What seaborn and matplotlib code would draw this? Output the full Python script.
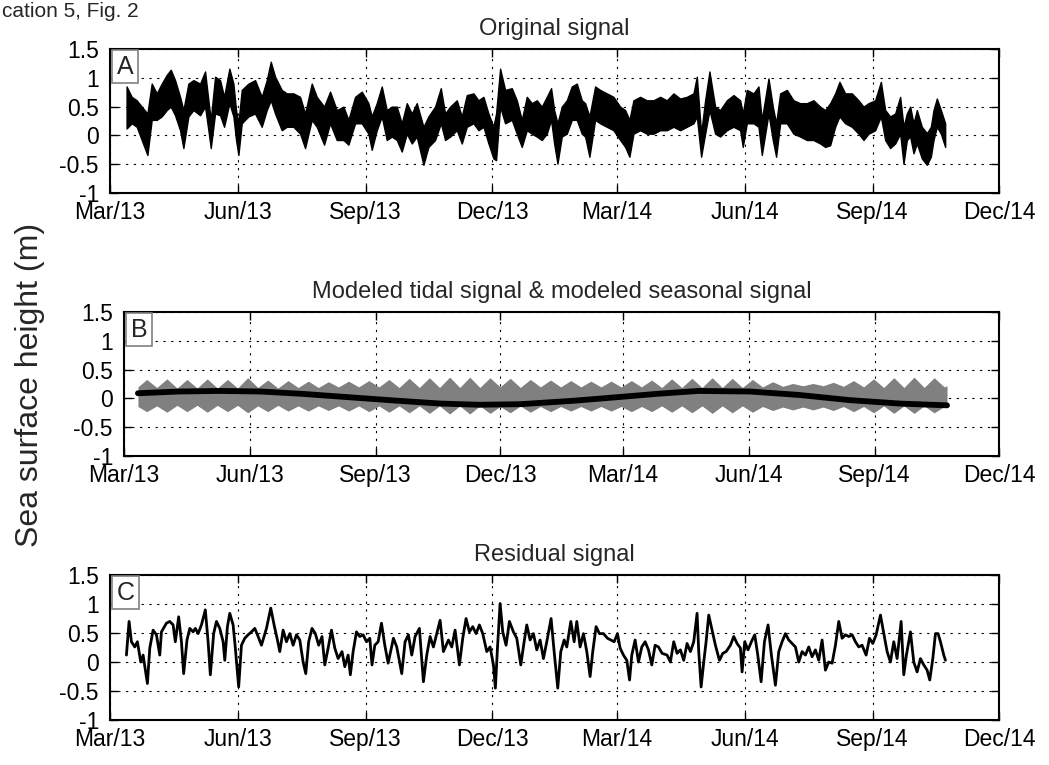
import matplotlib as mpl
mpl.use("Agg")
import matplotlib.pyplot as plt
import matplotlib.dates as mdates
import pandas as pd
import seaborn as sns

# days are counted from 1 March 2013
start_date = "2013-03-01"
x_ticks = ["2013-03-01", "2013-06-01", "2013-09-01", "2013-12-01",
           "2014-03-01", "2014-06-01", "2014-09-01", "2014-12-01"]
y_ticks = [-1, -0.5, 0, 0.5, 1, 1.5]
y_tick_labels = ["-1", "-0.5", "0", "0.5", "1", "1.5"]

titles = ["Original signal",
          "Modeled tidal signal & modeled seasonal signal",
          "Residual signal"]
panel_letters = ["A", "B", "C"]

# A: original signal, upper / lower edge of the black band
original_days = [
    11.9, 15.6, 19.2, 22.8, 26.9, 30.0, 33.6, 37.2, 40.8, 43.7, 46.8, 50.4, 52.8, 56.4, 60.0,
    64.8, 68.4, 70.8, 72.5, 75.6, 79.2, 82.1, 85.9, 88.8, 90.7, 92.4, 94.8, 99.6, 104.4, 109.2,
    112.8, 115.7, 118.8, 123.6, 127.2, 132.0, 136.8, 140.4, 145.2, 148.8, 154.1, 158.4, 163.2,
    168.0, 171.6, 176.4, 181.2, 186.0, 188.4, 192.0, 195.6, 199.2, 202.8, 206.4, 210.0, 213.6,
    217.2, 220.8, 225.6, 229.2, 234.0, 238.1, 241.2, 244.8, 249.6, 253.2, 256.8, 261.6, 265.2,
    268.8, 272.4, 276.0, 277.9, 280.8, 284.4, 289.2, 292.8, 296.4, 300.0, 303.6, 307.2, 310.8,
    314.4, 317.5, 319.7, 322.1, 325.2, 328.8, 332.4, 336.0, 339.6, 342.0, 345.1, 349.2, 352.8,
    357.6, 362.4, 367.2, 370.8, 373.9, 376.8, 381.6, 386.4, 391.2, 396.0, 400.8, 405.6, 410.4,
    415.2, 420.0, 422.4, 425.5, 428.4, 431.5, 435.6, 439.2, 444.0, 448.8, 453.6, 455.5, 458.4,
    463.2, 466.8, 469.2, 474.0, 477.1, 479.5, 482.4, 487.2, 492.0, 496.8, 501.6, 506.4, 511.2,
    514.8, 518.4, 522.0, 525.1, 529.2, 534.0, 538.8, 542.4, 546.0, 550.8, 554.9, 558.0, 561.6,
    565.2, 568.8, 571.2, 573.6, 576.0, 578.4, 580.8, 584.4, 588.0, 590.9, 592.8, 595.2, 598.1,
    601.2]
original_high = [
    0.85, 0.67, 0.61, 0.50, 0.38, 0.90, 0.73, 0.90, 1.05, 1.14, 0.96, 0.67, 0.44, 0.90, 0.96,
    0.90, 1.11, 0.61, 0.27, 1.02, 0.96, 0.67, 1.16, 0.90, 0.44, 0.21, 0.79, 0.90, 0.96, 0.67,
    0.96, 1.28, 1.02, 0.79, 0.73, 0.73, 0.67, 0.38, 0.90, 0.67, 0.50, 0.76, 0.44,
    0.50, 0.27, 0.67, 0.76, 0.56, 0.33, 0.56, 0.85, 0.44, 0.50, 0.50, 0.21, 0.56,
    0.38, 0.56, 0.15, 0.33, 0.50, 0.82, 0.38, 0.50, 0.61, 0.33, 0.70, 0.73, 0.61,
    0.67, 0.38, 0.15, 0.38, 1.16, 0.79, 0.82, 0.61, 0.27, 0.67, 0.56, 0.61, 0.50,
    0.67, 0.82, 0.44, 0.21, 0.50, 0.61, 0.85, 0.90, 0.61, 0.56, 0.33, 0.85, 0.79,
    0.73, 0.67, 0.50, 0.44, 0.27, 0.61, 0.67, 0.61, 0.61, 0.67, 0.61, 0.73, 0.64,
    0.67, 0.73, 1.02, 0.04, 0.61, 1.11, 0.50, 0.44, 0.61, 0.70, 0.61, 0.38, 0.79,
    0.73, 0.85, 0.27, 0.99, 0.50, 0.21, 0.73, 0.79, 0.61, 0.56, 0.56, 0.61, 0.50,
    0.44, 0.56, 0.73, 0.93, 0.73, 0.73, 0.61, 0.50, 0.56, 0.61, 0.93, 0.44, 0.33,
    0.38, 0.67, 0.15, 0.38, 0.50, 0.21, 0.44, 0.15, 0.04, 0.15, 0.44, 0.64, 0.44,
    0.21]
original_low = [
    0.12, 0.21, 0.15, -0.08, -0.34, 0.27, 0.27, 0.33, 0.44, 0.50, 0.35, 0.09, -0.22, 0.33, 0.44,
    0.35, 0.50, 0.09, -0.22, 0.38, 0.35, 0.15, 0.56, 0.33, -0.08, -0.34, 0.21, 0.33, 0.38, 0.15,
    0.44, 0.61, 0.38, 0.09, 0.15, 0.15, 0.03, -0.22, 0.27, 0.15, -0.16, 0.21, -0.08,
    -0.08, -0.16, 0.21, 0.21, 0.03, -0.25, 0.09, 0.33, -0.08, -0.02, -0.08, -0.28, 0.03,
    -0.14, -0.02, -0.51, -0.20, -0.08, 0.21, -0.08, -0.02, 0.09, -0.14, 0.15, 0.21, 0.09,
    0.15, -0.14, -0.40, -0.43, 0.50, 0.21, 0.27, 0.03, -0.20, 0.09, 0.03, -0.02, -0.08,
    0.03, 0.27, -0.14, -0.49, -0.02, 0.03, 0.27, 0.27, 0.03, -0.02, -0.37, 0.27, 0.21,
    0.15, 0.09, -0.08, -0.20, -0.37, 0.03, 0.09, 0.03, 0.03, 0.09, 0.09, 0.15, 0.09,
    0.15, 0.21, 0.33, -0.37, 0.03, 0.44, 0.03, -0.02, 0.09, 0.15, 0.09, -0.20, 0.21,
    0.21, 0.15, -0.34, 0.38, -0.08, -0.37, 0.21, 0.21, 0.03, -0.02, -0.08, -0.08, -0.14,
    -0.20, -0.17, 0.15, 0.33, 0.21, 0.15, 0.03, -0.08, 0.03, 0.09, 0.33, -0.08, -0.22,
    -0.14, 0.03, -0.49, -0.08, -0.02, -0.31, -0.14, -0.40, -0.51, -0.37, -0.08, 0.15, 0.03,
    -0.20]

# B: modeled tide (envelope at spring / neap tides) and seasonal cycle
tide_days = [
    10.2, 16.6, 24.0, 31.4, 38.8, 46.1, 53.5, 60.9, 68.3, 75.7, 83.1, 90.5, 97.9, 105.2,
    112.6, 120.0, 127.4, 134.8, 142.2, 149.5, 156.9, 164.3, 171.7, 179.1, 186.5, 193.8,
    201.2, 208.6, 216.0, 223.4, 230.8, 238.2, 245.6, 252.9, 260.3, 267.7, 275.1, 282.5,
    289.9, 297.2, 304.6, 312.0, 319.4, 326.8, 334.2, 341.5, 348.9, 356.3, 363.7, 371.1,
    378.5, 385.9, 393.3, 400.6, 408.0, 415.4, 422.8, 430.2, 437.6, 444.9, 452.3, 459.7,
    467.1, 474.5, 481.9, 489.2, 496.6, 504.0, 511.4, 518.8, 526.2, 533.6, 541.0, 548.3,
    555.7, 563.1, 570.5, 577.9, 585.3, 592.6, 600.0, 602.0]
tide_high = [
    0.20, 0.33, 0.19, 0.34, 0.18, 0.33, 0.18, 0.34, 0.18, 0.33,
    0.18, 0.36, 0.19, 0.32, 0.18, 0.31, 0.19, 0.30, 0.19, 0.29,
    0.20, 0.30, 0.20, 0.31, 0.20, 0.33, 0.19, 0.35, 0.19, 0.36,
    0.19, 0.37, 0.19, 0.37, 0.19, 0.36, 0.20, 0.35, 0.19, 0.33,
    0.20, 0.32, 0.20, 0.31, 0.20, 0.30, 0.20, 0.30, 0.20, 0.31,
    0.20, 0.32, 0.19, 0.34, 0.19, 0.35, 0.19, 0.36, 0.19, 0.35,
    0.19, 0.33, 0.20, 0.29, 0.21, 0.26, 0.22, 0.26, 0.22, 0.28,
    0.21, 0.31, 0.20, 0.34, 0.19, 0.36, 0.19, 0.37, 0.19, 0.36,
    0.20, 0.22]
tide_low = [
    -0.14, -0.23, -0.13, -0.24, -0.12, -0.23, -0.12, -0.24, -0.12, -0.23,
    -0.12, -0.25, -0.13, -0.23, -0.12, -0.22, -0.13, -0.22, -0.13, -0.21,
    -0.13, -0.22, -0.13, -0.23, -0.13, -0.24, -0.13, -0.25, -0.13, -0.26,
    -0.13, -0.27, -0.13, -0.27, -0.13, -0.26, -0.14, -0.25, -0.13, -0.24,
    -0.14, -0.23, -0.14, -0.22, -0.14, -0.22, -0.14, -0.22, -0.14, -0.23,
    -0.14, -0.23, -0.13, -0.24, -0.13, -0.25, -0.13, -0.26, -0.13, -0.25,
    -0.13, -0.24, -0.14, -0.21, -0.15, -0.20, -0.15, -0.20, -0.15, -0.21,
    -0.14, -0.23, -0.14, -0.25, -0.13, -0.26, -0.13, -0.26, -0.13, -0.25,
    -0.14, -0.15]
seasonal_days = [10.2, 40, 70, 100, 130, 165, 200, 232, 260, 290, 329, 360, 390, 420,
                 458, 494, 531, 568, 602]
seasonal_values = [0.09, 0.12, 0.13, 0.12, 0.08, 0.02, -0.04, -0.09, -0.11, -0.10, -0.04,
                   0.02, 0.08, 0.13, 0.12, 0.06, -0.03, -0.09, -0.12]

# C: residual signal
residual_days = [
    11.8, 13.7, 15.4, 17.8, 19.7, 22.1, 23.8, 26.9, 28.6, 31.0, 33.4, 35.8, 37.0, 40.6, 43.0,
    45.4, 47.0, 49.4, 51.4, 53.0, 55.4, 57.4, 59.8, 61.4, 63.4, 65.8, 68.6, 70.6, 72.2, 74.6,
    76.6, 79.0, 81.4, 82.6, 84.5, 86.2, 88.6, 90.2, 92.6, 94.6, 97.0, 99.4, 101.8, 104.2,
    106.6, 109.0, 112.6, 115.7, 118.1, 120.5, 122.2, 124.6, 127.0, 129.4, 131.8, 134.2,
    136.6, 139.0, 140.9, 143.0, 145.4, 147.8, 150.2, 152.6, 154.6, 157.0, 159.4, 161.8,
    164.2, 167.0, 169.0, 171.4, 173.0, 175.0, 177.4, 179.8, 182.2, 184.6, 187.0, 188.6,
    190.6, 193.0, 195.4, 197.8, 200.2, 204.0, 206.4, 210.0, 212.4, 214.8, 217.2, 219.6,
    222.7, 225.6, 228.0, 230.4, 232.8, 237.6, 240.0, 243.6, 246.0, 248.4, 251.5, 253.9,
    256.3, 258.7, 261.1, 263.5, 265.9, 268.3, 271.2, 273.6, 276.0, 277.4, 278.9, 280.8,
    282.7, 285.1, 287.5, 290.4, 292.8, 295.7, 298.1, 300.0, 302.4, 304.8, 307.2, 309.6,
    312.0, 314.4, 317.5, 319.7, 322.3, 324.5, 326.9, 328.8, 331.7, 334.1, 336.0, 338.4,
    340.8, 343.2, 345.6, 347.5, 349.9, 352.3, 355.2, 358.1, 360.5, 362.9, 365.3, 367.2,
    369.6, 372.0, 374.0, 375.6, 378.0, 380.4, 382.8, 385.2, 387.6, 390.0, 392.4, 394.8,
    397.4, 401.0, 403.4, 405.8, 408.2, 410.6, 413.0, 415.4, 417.8, 420.2, 422.6, 423.8,
    425.5, 427.4, 429.1, 431.0, 433.4, 435.8, 438.7, 441.1, 443.5, 446.6, 449.0, 451.4,
    453.8, 455.0, 456.9, 459.3, 461.7, 464.1, 466.3, 468.7, 471.1, 473.7, 476.1, 479.0,
    481.4, 483.8, 486.2, 488.6, 491.0, 493.4, 495.8, 498.2, 500.6, 503.0, 505.4, 507.8,
    510.2, 512.6, 515.0, 517.4, 519.8, 522.2, 524.6, 527.0, 529.4, 531.8, 534.2, 536.6,
    539.0, 541.4, 544.3, 546.7, 549.1, 551.5, 554.6, 557.0, 559.4, 561.8, 564.2, 566.6,
    569.5, 571.4, 573.3, 576.2, 578.6, 581.0, 583.4, 585.8, 588.2, 590.1, 592.3, 594.2,
    596.1, 597.8, 600.2, 601.4]
residual_values = [
    0.12, 0.70, 0.35, 0.26, 0.35, 0.00, 0.12, -0.37, 0.24, 0.55, 0.47, 0.12, 0.52, 0.67, 0.70,
    0.64, 0.35, 0.78, 0.35, -0.20, 0.38, 0.58, 0.52, 0.58, 0.49, 0.64, 0.90, 0.35, -0.22, 0.49,
    0.70, 0.58, 0.35, 0.03, 0.61, 0.84, 0.64, 0.24, -0.43, 0.29, 0.41, 0.47, 0.52, 0.58,
    0.44, 0.29, 0.58, 0.93, 0.64, 0.38, 0.18, 0.55, 0.35, 0.49, 0.29, 0.47,
    0.38, 0.00, -0.20, 0.35, 0.58, 0.49, 0.29, 0.44, -0.05, 0.24, 0.55, 0.24,
    0.06, 0.18, -0.08, 0.12, -0.22, 0.18, 0.52, 0.44, 0.47, 0.35, 0.41, -0.05,
    0.29, 0.35, 0.67, 0.29, -0.02, 0.41, 0.26, -0.20, 0.35, 0.47, 0.12, 0.44,
    0.58, -0.34, 0.12, 0.44, 0.26, 0.72, 0.18, 0.38, 0.26, 0.55, -0.05, 0.41,
    0.75, 0.52, 0.61, 0.49, 0.64, 0.49, 0.18, 0.26, -0.05, -0.45, 0.24, 1.01,
    0.52, 0.29, 0.70, 0.52, 0.41, -0.05, 0.35, 0.64, 0.38, 0.49, 0.21, 0.38,
    0.06, 0.35, 0.75, 0.18, -0.45, 0.18, 0.38, 0.26, 0.70, 0.35, 0.70, 0.26,
    0.49, 0.18, -0.25, 0.18, 0.61, 0.49, 0.49, 0.41, 0.38, 0.35, 0.49, 0.24,
    0.12, 0.03, -0.31, 0.12, 0.38, 0.00, 0.26, 0.35, 0.21, -0.05, 0.29, 0.26,
    0.15, 0.12, 0.00, 0.35, 0.15, 0.21, 0.03, 0.32, 0.18, 0.35, 0.84, 0.18,
    -0.43, 0.00, 0.35, 0.81, 0.55, 0.29, 0.03, 0.15, 0.18, 0.29, 0.44, 0.32,
    0.24, -0.17, 0.35, 0.21, 0.35, 0.47, 0.12, -0.34, 0.35, 0.64, 0.12, -0.40,
    0.18, 0.35, 0.49, 0.38, 0.32, 0.26, 0.00, 0.18, 0.12, 0.26, 0.09, 0.21,
    0.03, 0.38, -0.14, 0.00, -0.02, 0.29, 0.70, 0.41, 0.47, 0.44, 0.47, 0.35,
    0.26, 0.29, 0.12, 0.41, 0.32, 0.47, 0.81, 0.49, 0.18, 0.00, 0.35, 0.06,
    0.70, -0.22, 0.12, 0.52, 0.00, -0.17, 0.06, -0.05, -0.14, -0.31, 0.06, 0.49,
    0.49, 0.35, 0.12, 0.03]


def to_dates(days):
    return pd.Timestamp(start_date) + pd.to_timedelta(days, unit="D")


def style_axes(ax, title, letter):
    ax.set_xlim(pd.Timestamp(x_ticks[0]), pd.Timestamp(x_ticks[-1]))
    ax.set_ylim(y_ticks[0], y_ticks[-1])
    ax.set_xticks(pd.to_datetime(x_ticks))
    ax.xaxis.set_major_formatter(mdates.DateFormatter("%b/%y"))
    ax.set_yticks(y_ticks, y_tick_labels)
    ax.set_axisbelow(True)
    ax.grid(True, color="black", linestyle=(0, (2, 5)), linewidth=0.8)
    ax.tick_params(direction="in", length=6, width=1, top=True, right=True,
                   labelsize=16.5, colors="black")
    ax.tick_params(axis="x", pad=6)
    ax.tick_params(axis="y", pad=8)
    for spine in ax.spines.values():
        spine.set_visible(True)
        spine.set_linewidth(1.5)
        spine.set_color("black")
    ax.set_xlabel("")
    ax.set_ylabel("")
    ax.set_title(title, fontsize=17, pad=10)
    ax.annotate(letter, xy=(0, 1), xycoords="axes fraction", xytext=(5, -4),
                textcoords="offset points", ha="left", va="top", fontsize=18,
                bbox=dict(boxstyle="square,pad=0.18", facecolor="white",
                          edgecolor="#808080", linewidth=1.2))


sns.set_style("ticks")
plt.rcParams["font.family"] = ["Liberation Sans", "DejaVu Sans"]

fig = plt.figure(figsize=(10.49, 7.65), dpi=100)
ax_a = fig.add_axes([0.1049, 0.7477, 0.8475, 0.1882])
ax_b = fig.add_axes([0.1182, 0.4039, 0.8341, 0.1882])
ax_c = fig.add_axes([0.1049, 0.0588, 0.8475, 0.1895])

# A
ax_a.fill_between(to_dates(original_days), original_low, original_high,
                  color="black", edgecolor="black", linewidth=1.0)
style_axes(ax_a, titles[0], panel_letters[0])

# B
ax_b.fill_between(to_dates(tide_days), tide_low, tide_high,
                  color="#808080", linewidth=0)
seasonal = pd.DataFrame({"date": to_dates(seasonal_days), "height": seasonal_values})
sns.lineplot(data=seasonal, x="date", y="height", ax=ax_b, color="black",
             linewidth=4.2, estimator=None, sort=False)
style_axes(ax_b, titles[1], panel_letters[1])

# C
residual = pd.DataFrame({"date": to_dates(residual_days), "height": residual_values})
sns.lineplot(data=residual, x="date", y="height", ax=ax_c, color="black",
             linewidth=2.0, estimator=None, sort=False)
style_axes(ax_c, titles[2], panel_letters[2])

fig.text(0.0286, 0.497, "Sea surface height (m)", rotation=90, ha="center",
         va="center", fontsize=23)
fig.text(0.002, 0.997, "cation 5, Fig. 2", ha="left", va="top", fontsize=15)

plt.savefig("out.png", dpi=100)
plt.close()
